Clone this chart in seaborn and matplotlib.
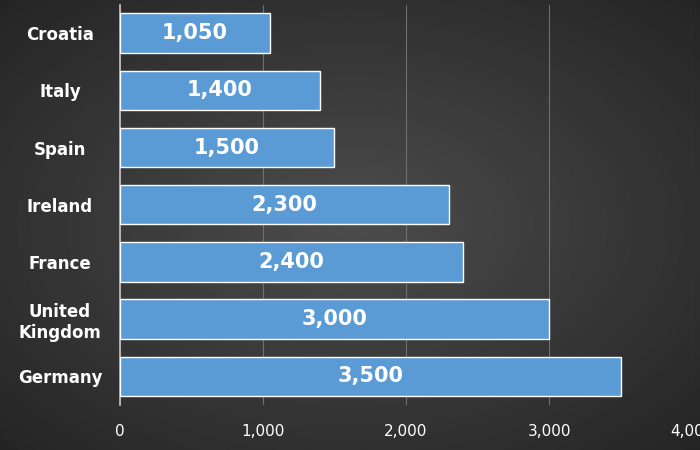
import numpy as np
import pandas as pd
import matplotlib
matplotlib.use("Agg")
import matplotlib.pyplot as plt
import seaborn as sns

countries = ["Croatia", "Italy", "Spain", "Ireland", "France", "United\nKingdom", "Germany"]
values = [1050, 1400, 1500, 2300, 2400, 3000, 3500]
xticks = [0, 1000, 2000, 3000, 4000]
xticklabels = ["0", "1,000", "2,000", "3,000", "4,000"]

sns.set_theme(style="dark")
plt.rcParams['font.family'] = ['DejaVu Sans']

fig = plt.figure(figsize=(7, 4.5), dpi=100)
bg = fig.add_axes([0, 0, 1, 1], zorder=-10)
yy, xx = np.mgrid[-1:1:300j, -1:1:450j]
r = np.sqrt(xx**2 + yy**2)
img = np.clip(0.30 - 0.11 * r, 0.1, 0.32)
bg.imshow(img, cmap="gray", vmin=0, vmax=1, aspect="auto", extent=[0, 1, 0, 1])
bg.axis("off")

ax = fig.add_axes([0.171, 0.10, 0.818, 0.89])
ax.set_facecolor("none")
df = pd.DataFrame({"country": countries, "value": values})
sns.barplot(data=df, x="value", y="country", orient="h", color="#5B9BD5",
            saturation=1, width=0.69, edgecolor="white", linewidth=1, ax=ax, zorder=3)
for i, v in enumerate(values):
    ax.text(v / 2, i, f"{v:,}", ha="center", va="center", color="white",
            fontsize=15, fontweight="bold", zorder=4)
ax.set_xlim(0, 4000)
ax.set_xticks(xticks)
ax.set_xticklabels(xticklabels, color="white", fontsize=11)
ax.tick_params(axis="y", colors="white", labelsize=12, length=0, pad=43)
for t in ax.get_yticklabels():
    t.set_fontweight("bold")
    t.set_ha("center")
ax.tick_params(axis="x", length=0, pad=14)
ax.set_xlabel("")
ax.set_ylabel("")
ax.grid(axis="x", color="#707070", linewidth=0.8, zorder=0)
ax.grid(axis="y", visible=False)
for s in ax.spines.values():
    s.set_visible(False)
ax.spines["left"].set_visible(True)
ax.spines["left"].set_color("#bfbfbf")
fig.savefig("out.png", dpi=100)
